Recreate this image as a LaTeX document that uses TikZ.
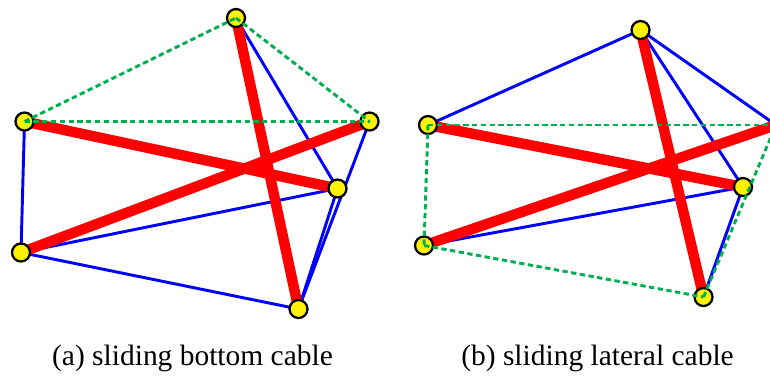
\documentclass[tikz,border=0pt]{standalone}
\usepackage{fontspec}
\setmainfont{Liberation Serif}
\definecolor{greenc}{RGB}{0,176,80}
\tikzset{
  x=0.75pt,y=-0.75pt,
  joint/.style={circle,draw=black,fill=yellow,line width=1.7pt,minimum size=13.5pt,inner sep=0pt},
  strut/.style={red,line width=7.8pt},
  cable/.style={blue,line width=2.2pt},
  slide/.style={draw=greenc,line width=2.2pt,dash pattern=on 4pt off 2.6pt},
  caption/.style={font=\fontsize{22.1pt}{26pt}\selectfont,inner sep=0pt}
}
\begin{document}
\begin{tikzpicture}
\useasboundingbox (0,0) rectangle (770,376);
\clip (0,0) rectangle (770,376);
% panel a
\coordinate (aL) at (24.5,121.5);
\coordinate (aT) at (236,18);
\coordinate (aR) at (369.5,121.5);
\coordinate (aM) at (337.5,188.5);
\coordinate (aB) at (21,252.5);
\coordinate (aD) at (298.5,309);
\draw[cable] (aL)--(aB);
\draw[cable] (aB)--(aM);
\draw[cable] (aB)--(aD);
\draw[cable] (aD)--(aM);
\draw[cable] (aD)--(aR);
\draw[cable] (aT)--(aM);
\draw[strut] (aL)--(aM);
\draw[strut] (aB)--(aR);
\draw[strut] (aT)--(aD);
\node[joint] (naL) at (aL) {};
\node[joint] (naT) at (aT) {};
\node[joint] (naR) at (aR) {};
\node[joint] (naM) at (aM) {};
\node[joint] (naB) at (aB) {};
\node[joint] (naD) at (aD) {};
\draw[slide] (naL.center)--(naT.center);
\draw[slide] (naT.center)--(naR.center);
\draw[slide] (naL.center)--(naR.center);
% panel b
\coordinate (bL) at (428,125);
\coordinate (bT) at (640.5,30);
\coordinate (bR) at (776,125);
\coordinate (bM) at (743,187);
\coordinate (bB) at (424,245.5);
\coordinate (bD) at (703.5,297);
\draw[cable] (bT)--(bL);
\draw[cable] (bT)--(bR);
\draw[cable] (bT)--(bM);
\draw[cable] (bM)--(bB);
\draw[cable] (bM)--(bD);
\draw[strut] (bL)--(bM);
\draw[strut] (bB)--(bR);
\draw[strut] (bT)--(bD);
\node[joint] (nbL) at (bL) {};
\node[joint] (nbT) at (bT) {};
\node[joint] (nbM) at (bM) {};
\node[joint] (nbB) at (bB) {};
\node[joint] (nbD) at (bD) {};
\draw[slide] (nbL.center)--(bR);
\draw[slide] (nbL.center)--(nbB.center);
\draw[slide] (nbB.center)--(nbD.center);
\draw[slide] (nbD.center)--(bR);
\node[caption] (capa) at (192.5,358) {(a) sliding bottom cable};
\node[caption] (capb) at (597.5,358) {(b) sliding lateral cable};
\end{tikzpicture}
\end{document}
